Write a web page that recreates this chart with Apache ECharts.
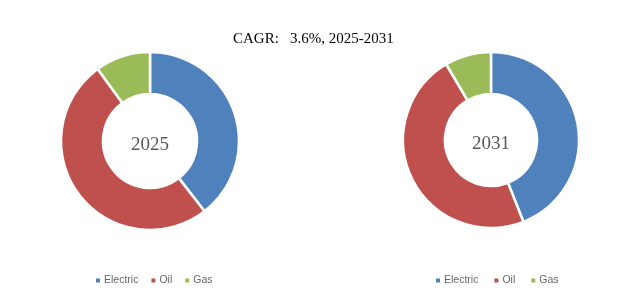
<!DOCTYPE html>
<html>
<head>
<meta charset="utf-8">
<script src="https://cdn.jsdelivr.net/npm/echarts@6/dist/echarts.min.js"></script>
<style>
  html, body { margin: 0; padding: 0; background: #fff; }
  #chart { width: 641px; height: 304px; }
</style>
</head>
<body>
<div id="chart"></div>
<script>
// 数据
var categories = ['Electric', 'Oil', 'Gas'];
var years = ['2025', '2031'];
var values2025 = [39.5, 50.5, 10];
var values2031 = [44, 47.5, 8.5];
var colors = ['#4f81bd', '#c0504d', '#9bbb59'];

function buildData (vals) {
   return categories.map(function (name, i) {
      return { name: name, value: vals[i] };
   });
}

function centerLabel (text) {
   return {
      show: true,
      position: 'center',
      formatter: '{y|' + text + '}',
      rich: {
         y: {
            fontFamily: 'Liberation Serif',
            fontSize: 19,
            color: '#595959',
            padding: [9, 0, 0, 0]
         }
      }
   };
}

var legendText = { fontFamily: 'Liberation Sans', fontSize: 10.5, color: '#666', padding: [0, 0, 0, -2] };

var myChart = echarts.init(document.getElementById('chart'));
var option = {
   animation: false,
   color: colors,
   title: {
      text: 'CAGR:   3.6%, 2025-2031',
      left: 228,
      top: 27,
      textStyle: {
         fontFamily: 'Liberation Serif',
         fontWeight: 'normal',
         fontSize: 15,
         color: '#000'
      }
   },
   legend: [{
      left: 89,
      top: 270,
      icon: 'rect',
      itemWidth: 6,
      itemHeight: 6,
      itemGap: 11,
      data: categories,
      textStyle: legendText
   }, {
      left: 429,
      top: 270,
      icon: 'rect',
      itemWidth: 6,
      itemHeight: 6,
      itemGap: 14,
      data: categories,
      textStyle: legendText
   }],
   series: [{
      name: years[0],
      type: 'pie',
      center: [150, 141],
      radius: [47, 89],
      startAngle: 90,
      clockwise: true,
      label: centerLabel(years[0]),
      emphasis: { disabled: true },
      itemStyle: { borderColor: '#fff', borderWidth: 2.5 },
      data: buildData(values2025)
   }, {
      name: years[1],
      type: 'pie',
      center: [491, 140],
      radius: [46, 88],
      startAngle: 90,
      clockwise: true,
      label: centerLabel(years[1]),
      emphasis: { disabled: true },
      itemStyle: { borderColor: '#fff', borderWidth: 2.5 },
      data: buildData(values2031)
   }]
};
myChart.setOption(option);
</script>
</body>
</html>
